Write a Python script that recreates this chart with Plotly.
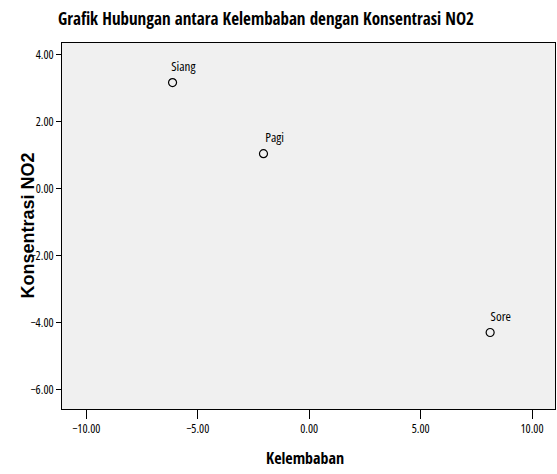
import plotly.graph_objects as go

labels = ["Pagi", "Siang", "Sore"]
kelembaban = [-2.05, -6.13, 8.12]
no2 = [1.04, 3.16, -4.29]
x_ticks = [-10, -5, 0, 5, 10]
y_ticks = [4, 2, 0, -2, -4, -6]

COND = "Open Sans"            # stretched to condensed via CSS below
COND_BOLD = "Open Sans Condensed"
WIDE = "Liberation Sans, Arial, sans-serif"

fig = go.Figure()
fig.add_trace(go.Scatter(
    x=kelembaban, y=no2, mode="markers",
    marker=dict(symbol="circle-open", size=8, color="black", line=dict(width=1.2, color="black")),
    showlegend=False, hoverinfo="skip"))

for lx, ly, lt in zip(kelembaban, no2, labels):
    fig.add_annotation(x=lx, y=ly, text=lt, showarrow=False, xanchor="center", yanchor="middle",
                       xshift=11, yshift=17, font=dict(family=COND, size=13, color="black"))

fig.add_annotation(xref="paper", yref="paper", x=(27.5 - 62) / 493, y=0.5, text="<b>Konsentrasi NO2</b>",
                   textangle=-90, showarrow=False, xanchor="center", yanchor="middle",
                   font=dict(family=WIDE, size=18, color="black"))
fig.add_annotation(xref="paper", yref="paper", x=(305 - 62) / 493, y=-(458 - 409) / 366, text="<b>Kelembaban</b>",
                   showarrow=False, xanchor="center", yanchor="middle",
                   font=dict(family=COND_BOLD, size=16, color="black"))

fig.update_layout(
    width=557, height=474,
    margin=dict(l=62, r=2, t=43, b=65),
    paper_bgcolor="white", plot_bgcolor="#F0F0F0",
    title=dict(text="<b>Grafik Hubungan antara Kelembaban dengan Konsentrasi NO2</b>",
               x=58 / 557, xanchor="left", y=1 - 19 / 474, yanchor="middle",
               font=dict(family=COND_BOLD, size=17, color="black")),
    xaxis=dict(range=[-11.09, 11.03], tickvals=x_ticks, tickformat=".2f",
               showgrid=False, zeroline=False, showline=True, linecolor="black", linewidth=1, mirror=True,
               ticks="outside", ticklen=9, tickcolor="black",
               tickfont=dict(family=COND, size=12, color="black")),
    yaxis=dict(range=[-6.57, 4.34], tickvals=y_ticks, tickformat=".2f",
               showgrid=False, zeroline=False, showline=True, linecolor="black", linewidth=1, mirror=True,
               ticks="outside", ticklen=5, tickcolor="black",
               tickfont=dict(family=COND, size=12, color="black")),
)

js = """document.body.style.margin='0px';
var s=document.createElement('style');
s.innerHTML='.xtick text, .ytick text, .annotation[data-index="0"] text, .annotation[data-index="1"] text, .annotation[data-index="2"] text {font-stretch:75% !important;}';
document.head.appendChild(s);
"""
fig.write_html("out.html", post_script=js, config={"displayModeBar": False})
